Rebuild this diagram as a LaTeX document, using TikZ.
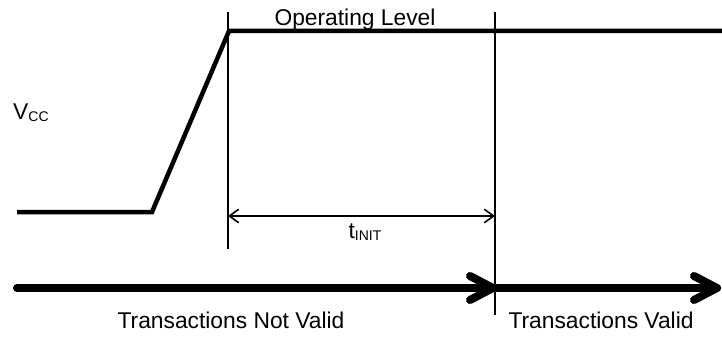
\documentclass[tikz,border=0pt]{standalone}
\usepackage{fontspec}
\setmainfont{Liberation Sans}
\usetikzlibrary{arrows.meta}
\newcommand{\subtxt}[1]{\raisebox{-2.5pt}{\fontsize{14}{15}\selectfont #1}}
\begin{document}
\begin{tikzpicture}[x=1pt,y=-1pt,
  txt/.style={inner sep=0pt,font=\fontsize{22.8}{24}\selectfont,anchor=base},
  signal/.style={line width=4.5pt,line join=miter,line cap=butt},
  marker/.style={line width=2pt},
  dim/.style={line width=1.6pt,{Straight Barb[length=9pt,width=13pt,line cap=round]}-{Straight Barb[length=9pt,width=13pt,line cap=round]}},
  bigarrow/.style={line width=8pt,line cap=round,line join=round}
]
\useasboundingbox (0,0) rectangle (722,337);
% coordinates
\coordinate (lowstart) at (17,212);
\coordinate (rampstart) at (152,212);
\coordinate (rampend) at (229,31);
\coordinate (highend) at (722,31);
\coordinate (m1top) at (228,12);
\coordinate (m1bot) at (228,249);
\coordinate (m2top) at (495,12);
\coordinate (m2bot) at (495,315);
\coordinate (d1) at (228,216);
\coordinate (d2) at (495,216);
\coordinate (a1s) at (17,288);
\coordinate (a1e) at (493,288);
\coordinate (a2e) at (717,288);
% signal
\draw[signal] (lowstart) -- (rampstart) -- (rampend) -- (highend);
% markers
\draw[marker] (m1top) -- (m1bot);
\draw[marker] (m2top) -- (m2bot);
% dimension
\draw[dim] (d1) -- (d2);
% big arrows
\draw[bigarrow] (a1s) -- (a1e);
\draw[bigarrow] ([shift={(-23,-12)}]a1e) -- (a1e) -- ([shift={(-23,12)}]a1e);
\draw[bigarrow] (a1e) -- (a2e);
\draw[bigarrow] ([shift={(-23,-12)}]a2e) -- (a2e) -- ([shift={(-23,12)}]a2e);
% labels
\node[txt] (oplevel) at (355,26) {Operating Level};
\node[txt,anchor=base west] (vcc) at (13,119) {V\subtxt{CC}};
\node[txt] (tinit) at (365,238) {t\subtxt{INIT}};
\node[txt] (notvalid) at (231,328) {Transactions Not Valid};
\node[txt] (valid) at (601,328) {Transactions Valid};
\end{tikzpicture}
\end{document}
